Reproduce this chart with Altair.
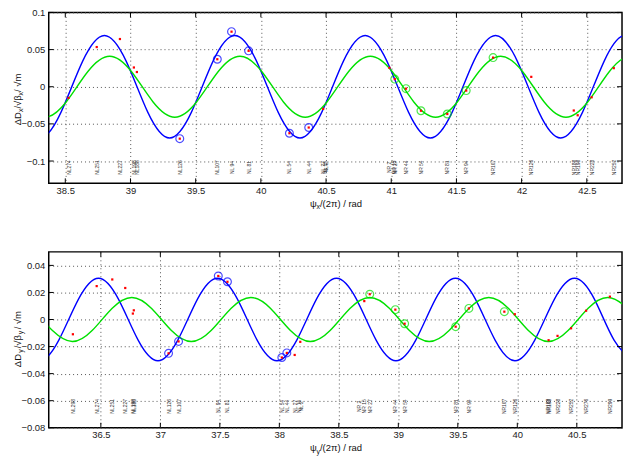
import altair as alt
import pandas as pd

FONT = "Liberation Sans"
BLUE = "#0000ff"
GREEN = "#00e000"
W = 577
H1 = 172
H2 = 177

# ---------------- top panel (horizontal) ----------------
top_xdomain = [38.373, 42.77]
top_ydomain = [-0.13, 0.1]
top_xticks = [38.5, 39, 39.5, 40, 40.5, 41, 41.5, 42, 42.5]
top_yticks = [-0.1, -0.05, 0, 0.05, 0.1]

top_blue_psi = [38.1333, 38.3, 38.4667, 38.6333, 38.8, 38.9667, 39.1333, 39.3, 39.4667, 39.6333,
                39.8, 39.9667, 40.1333, 40.3, 40.4667, 40.6333, 40.8, 40.9667, 41.1333, 41.3,
                41.4667, 41.6333, 41.8, 41.9667, 42.1333, 42.3, 42.4667, 42.6333, 42.8, 42.9667]
top_blue_val = [-0.0345, -0.069, -0.0345, 0.0345, 0.069, 0.0345,
                -0.0345, -0.069, -0.0345, 0.0345, 0.069, 0.0345,
                -0.0345, -0.069, -0.0345, 0.0345, 0.069, 0.0345,
                -0.0345, -0.069, -0.0345, 0.0345, 0.069, 0.0345,
                -0.0345, -0.069, -0.0345, 0.0345, 0.069, 0.0345]
top_green_psi = [38.1733, 38.34, 38.5067, 38.6733, 38.84, 39.0067, 39.1733, 39.34, 39.5067, 39.6733,
                 39.84, 40.0067, 40.1733, 40.34, 40.5067, 40.6733, 40.84, 41.0067, 41.1733, 41.34,
                 41.5067, 41.6733, 41.84, 42.0067, 42.1733, 42.34, 42.5067, 42.6733, 42.84, 43.0067]
top_green_val = [-0.0205, -0.041, -0.0205, 0.0205, 0.041, 0.0205,
                 -0.0205, -0.041, -0.0205, 0.0205, 0.041, 0.0205,
                 -0.0205, -0.041, -0.0205, 0.0205, 0.041, 0.0205,
                 -0.0205, -0.041, -0.0205, 0.0205, 0.041, 0.0205,
                 -0.0205, -0.041, -0.0205, 0.0205, 0.041, 0.0205]

top_pt_psi = [38.525, 38.741, 38.919, 39.026, 39.049, 39.378, 39.666, 39.775, 39.906, 40.219,
              40.367, 40.478, 40.986, 41.027, 41.113, 41.228, 41.43, 41.575, 41.781, 42.074,
              42.40, 42.43, 42.537, 42.707]
top_pt_val = [-0.015, 0.0534, 0.0642, 0.0259, 0.0198, -0.0699, 0.037, 0.0741, 0.0483, -0.0626,
              -0.0549, -0.0298, 0.0254, 0.0103, -0.0026, -0.0323, -0.0367, -0.0052, 0.0392, 0.0133,
              -0.032, -0.0384, -0.0142, 0.025]
top_pt_ring = ["", "", "", "", "", "blue", "blue", "blue", "blue", "blue",
               "blue", "", "", "green", "green", "green", "green", "green", "green", "",
               "", "", "", ""]

top_bpm_names = ["NL274", "NL251", "NL227", "NL198", "NL188", "NL126", "NL107", "NL 94", "NL 81",
                 "NL 54", "NL 44", "NL 27", "NL 15", "NL 2", "NR 2", "NR 15", "NR 27", "NR 44",
                 "NR 54", "NR 81", "NR 94", "NR107", "NR126", "NR188", "NR198", "NR228", "NR252"]
top_bpm_psi = [38.525, 38.741, 38.919, 39.026, 39.049, 39.378, 39.666, 39.775, 39.906,
               40.219, 40.367, 40.478, 40.49, 40.50, 40.986, 41.02, 41.027, 41.113,
               41.228, 41.43, 41.575, 41.781, 42.074, 42.40, 42.43, 42.537, 42.71]

# ---------------- bottom panel (vertical) ----------------
bot_xdomain = [36.062, 40.88]
bot_ydomain = [-0.08, 0.05]
bot_xticks = [36.5, 37, 37.5, 38, 38.5, 39, 39.5, 40, 40.5]
bot_yticks = [-0.08, -0.06, -0.04, -0.02, 0, 0.02, 0.04]

bot_blue_psi = [35.8133, 35.98, 36.1467, 36.3133, 36.48, 36.6467, 36.8133, 36.98, 37.1467, 37.3133,
                37.48, 37.6467, 37.8133, 37.98, 38.1467, 38.3133, 38.48, 38.6467, 38.8133, 38.98,
                39.1467, 39.3133, 39.48, 39.6467, 39.8133, 39.98, 40.1467, 40.3133, 40.48, 40.6467,
                40.8133, 40.98]
bot_blue_val = [-0.01525, -0.0305, -0.01525, 0.01525, 0.0305, 0.01525,
                -0.01525, -0.0305, -0.01525, 0.01525, 0.0305, 0.01525,
                -0.01525, -0.0305, -0.01525, 0.01525, 0.0305, 0.01525,
                -0.01525, -0.0305, -0.01525, 0.01525, 0.0305, 0.01525,
                -0.01525, -0.0305, -0.01525, 0.01525, 0.0305, 0.01525,
                -0.01525, -0.0305]
bot_green_psi = [35.9267, 36.0933, 36.26, 36.4267, 36.5933, 36.76, 36.9267, 37.0933, 37.26, 37.4267,
                 37.5933, 37.76, 37.9267, 38.0933, 38.26, 38.4267, 38.5933, 38.76, 38.9267, 39.0933,
                 39.26, 39.4267, 39.5933, 39.76, 39.9267, 40.0933, 40.26, 40.4267, 40.5933, 40.76,
                 40.9267, 41.0933]
bot_green_val = [0.00815, -0.00815, -0.0163, -0.00815, 0.00815, 0.0163,
                 0.00815, -0.00815, -0.0163, -0.00815, 0.00815, 0.0163,
                 0.00815, -0.00815, -0.0163, -0.00815, 0.00815, 0.0163,
                 0.00815, -0.00815, -0.0163, -0.00815, 0.00815, 0.0163,
                 0.00815, -0.00815, -0.0163, -0.00815, 0.00815, 0.0163,
                 0.00815, -0.00815]

bot_pt_psi = [36.265, 36.465, 36.596, 36.705, 36.769, 36.777, 37.069, 37.153, 37.487, 37.564,
              38.021, 38.063, 38.129, 38.176, 38.714, 38.76, 38.975, 39.053, 39.482, 39.593,
              39.891, 39.979, 40.263, 40.338, 40.452, 40.578, 40.778]
bot_pt_val = [-0.0109, 0.0247, 0.0296, 0.0233, 0.0044, 0.0068, -0.025, -0.0162, 0.0322, 0.0279,
              -0.0281, -0.0247, -0.0262, -0.0165, 0.0136, 0.0187, 0.0073, -0.0031, -0.0053, 0.0082,
              0.0058, 0.0039, -0.0153, -0.0121, -0.0065, 0.0065, 0.0169]
bot_pt_ring = ["", "", "", "", "", "", "blue", "blue", "blue", "blue",
               "blue", "blue", "", "", "", "green", "green", "green", "green", "green",
               "green", "", "", "", "", "", ""]

bot_bpm_names = ["NL298", "NL274", "NL251", "NL227", "NL198", "NL188", "NL126", "NL107", "NL 94",
                 "NL 81", "NL 54", "NL 44", "NL 27", "NL 15", "NL 2", "NR 2", "NR 15", "NR 27",
                 "NR 44", "NR 54", "NR 81", "NR 94", "NR107", "NR126", "NR188", "NR198", "NR228",
                 "NR252", "NR276", "NR299"]
bot_bpm_psi = [36.265, 36.465, 36.596, 36.705, 36.769, 36.777, 37.069, 37.153, 37.487,
               37.564, 38.021, 38.063, 38.129, 38.165, 38.18, 38.672, 38.714, 38.76,
               38.975, 39.053, 39.482, 39.593, 39.891, 39.979, 40.255, 40.263, 40.338,
               40.452, 40.578, 40.778]


def title_piece(text, px, py, size, angle=0, align="left", baseline="alphabetic"):
    return alt.Chart(pd.DataFrame({"a": [0]})).mark_text(
        text=text, font=FONT, fontSize=size, color="#111", angle=angle,
        align=align, baseline=baseline
    ).encode(x=alt.value(px), y=alt.value(py))


def panel(H, xdom, ydom, xticks, yticks, bpsi, bval, gpsi, gval,
          ppsi, pval, pring, names, npsi, label_py, sub, ylab):
    xsc = alt.Scale(domain=xdom, nice=False, zero=False)
    ysc = alt.Scale(domain=ydom, nice=False, zero=False)
    xax = alt.Axis(values=xticks, title=None, format="~g", labelPadding=2)
    yax = alt.Axis(values=yticks, title=None, format="~g", labelPadding=4)
    X = lambda f: alt.X(f, scale=xsc, axis=xax)
    Y = lambda f: alt.Y(f, scale=ysc, axis=yax)

    curves = pd.DataFrame({
        "psi": bpsi + gpsi,
        "val": bval + gval,
        "s": ["blue"] * len(bpsi) + ["green"] * len(gpsi),
    })
    pts = pd.DataFrame({"psi": ppsi, "val": pval, "ring": pring})
    labs = pd.DataFrame({"psi": npsi, "name": names})
    xt = pd.DataFrame({"t": xticks})
    yt = pd.DataFrame({"t": yticks})

    color = alt.Color("s:N", scale=alt.Scale(domain=["blue", "green"], range=[BLUE, GREEN]), legend=None)
    lines = alt.Chart(curves).mark_line(clip=True, strokeWidth=1.4, interpolate="natural").encode(
        x=X("psi:Q"), y=Y("val:Q"), color=color, detail="s:N")
    rings = alt.Chart(pts).transform_filter("datum.ring != ''").mark_point(
        shape="circle", filled=False, size=62, strokeWidth=1.2).encode(
        x=X("psi:Q"), y=Y("val:Q"),
        color=alt.Color("ring:N", scale=alt.Scale(domain=["blue", "green"], range=[BLUE, GREEN]), legend=None))
    dots = alt.Chart(pts).mark_square(size=5, color="#ff0000", opacity=1).encode(
        x=X("psi:Q"), y=Y("val:Q"))
    labels = alt.Chart(labs).mark_text(angle=270, font=FONT, fontSize=5, color="#333",
                                       align="center", baseline="middle").encode(
        x=X("psi:Q"), y=alt.value(label_py), text="name:N")
    tb = alt.Chart(xt).mark_rule(color="black", strokeWidth=1).encode(
        x=X("t:Q"), y=alt.value(H), y2=alt.value(H - 5))
    tt = alt.Chart(xt).mark_rule(color="black", strokeWidth=1).encode(
        x=X("t:Q"), y=alt.value(0), y2=alt.value(5))
    tl = alt.Chart(yt).mark_rule(color="black", strokeWidth=1).encode(
        y=Y("t:Q"), x=alt.value(0), x2=alt.value(5))
    tr = alt.Chart(yt).mark_rule(color="black", strokeWidth=1).encode(
        y=Y("t:Q"), x=alt.value(W), x2=alt.value(W - 5))

    # x title: psi_sub/(2pi) / rad
    fs = 9.5
    x0 = W / 2 - 25.6
    xb = H + 23.5
    xt1 = title_piece("\u03c8", x0, xb, fs)
    xt2 = title_piece(sub, x0 + 6.6, xb + 2.5, 7)
    xt3 = title_piece("/(2\u03c0) / rad", x0 + 10.1, xb, fs)

    # y title: Delta D_sub / sqrt(beta_sub) / sqrt(m), rotated
    yb = -28
    y0, o2, o3, o4, o5, rest = ylab
    yt1 = title_piece("\u0394D", yb, y0, fs, angle=270)
    yt2 = title_piece(sub, yb + 2.5, y0 - o2, 7, angle=270)
    yt3 = title_piece("/\u221a\u03b2", yb, y0 - o3, fs, angle=270)
    yt4 = title_piece(sub, yb + 2.5, y0 - o4, 7, angle=270)
    yt5 = title_piece(rest, yb, y0 - o5, fs, angle=270)

    return alt.layer(lines, rings, dots, labels, tb, tt, tl, tr,
                     xt1, xt2, xt3, yt1, yt2, yt3, yt4, yt5).properties(width=W, height=H)


top = panel(H1, top_xdomain, top_ydomain, top_xticks, top_yticks,
            top_blue_psi, top_blue_val, top_green_psi, top_green_val,
            top_pt_psi, top_pt_val, top_pt_ring, top_bpm_names, top_bpm_psi, 156, "x",
            (113.5, 13.2, 16.7, 30.0, 33.5, " / \u221am"))
bottom = panel(H2, bot_xdomain, bot_ydomain, bot_xticks, bot_yticks,
               bot_blue_psi, bot_blue_val, bot_green_psi, bot_green_val,
               bot_pt_psi, bot_pt_val, bot_pt_ring, bot_bpm_names, bot_bpm_psi, 155.5, "y",
               (116, 14.5, 19.0, 33.0, 38.0, "  /  \u221am"))

chart = alt.vconcat(top, bottom, spacing=39).properties(
    padding={"left": 4, "top": -3, "right": 0, "bottom": 0}
).configure_view(
    stroke="black", strokeWidth=1.5
).configure_axis(
    domain=False, ticks=False, grid=True, gridDash=[1, 3], gridColor="#555", gridWidth=1,
    labelFont=FONT, labelFontSize=9.5, labelColor="#222"
)

chart.save("out.html", embed_options={"renderer": "svg", "actions": False})
